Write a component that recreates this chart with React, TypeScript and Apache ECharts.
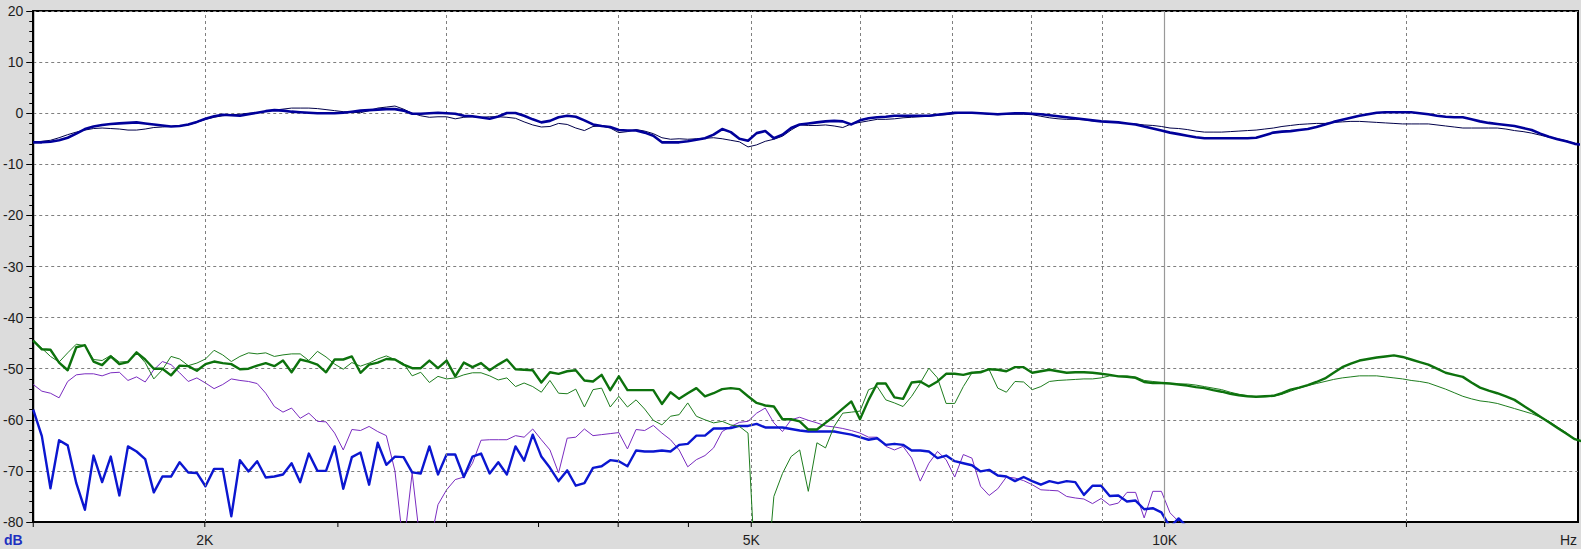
import React, { useEffect, useRef } from "react";
import * as echarts from "echarts";

// Measurement grid: 1/48 octave steps starting at 1.5 kHz (sample positions only)
const START_HZ = 1500;
const STEPS_PER_OCTAVE = 48;
const freqHz: number[] = Array.from({ length: 181 }, (_, i) => START_HZ * Math.pow(2, i / STEPS_PER_OCTAVE));

// Main response (thick navy), dB
const respThick = [
  -5.7, -5.7, -5.6, -5.3, -4.8, -4.0, -3.1, -2.6, -2.3, -2.1,
  -2.0, -1.9, -1.8, -2.0, -2.2, -2.4, -2.6, -2.5, -2.2, -1.7,
  -1.1, -0.6, -0.3, -0.4, -0.5, -0.2, 0.1, 0.4, 0.6, 0.5,
  0.3, 0.2, 0.1, 0.0, 0.0, 0.0, 0.1, 0.3, 0.5, 0.6,
  0.7, 0.8, 0.8, 0.5, -0.1, -0.1, 0.0, 0.1, 0.0, -0.1,
  -0.5, -0.6, -0.85, -1.1, -0.65, 0.05, 0.05, -0.5, -1.2, -1.8,
  -1.5, -0.8, -0.5, -0.7, -1.4, -2.2, -2.5, -2.7, -3.3, -3.4,
  -3.4, -3.8, -4.4, -5.7, -5.7, -5.7, -5.5, -5.2, -4.9, -4.2,
  -3.1, -3.7, -5.0, -5.4, -3.9, -3.5, -4.9, -4.2, -2.9, -2.2,
  -2.0, -1.8, -1.6, -1.5, -1.6, -2.2, -1.4, -1.0, -0.8, -0.7,
  -0.5, -0.5, -0.5, -0.5, -0.5, -0.3, -0.1, 0.1, 0.1, 0.1,
  0.0, -0.1, -0.2, -0.1, 0.0, 0.0, -0.1, -0.2, -0.4, -0.6,
  -0.8, -1.0, -1.2, -1.4, -1.6, -1.7, -1.8, -2.0, -2.2, -2.6,
  -3.0, -3.4, -3.8, -4.1, -4.4, -4.7, -4.9, -4.9, -4.9, -4.9,
  -4.9, -4.9, -4.8, -4.3, -3.8, -3.6, -3.5, -3.3, -3.1, -2.7,
  -2.2, -1.7, -1.3, -0.9, -0.5, -0.2, 0.1, 0.2, 0.2, 0.2,
  0.2, 0.0, -0.2, -0.5, -0.7, -0.8, -0.8, -1.2, -1.6, -1.9,
  -2.1, -2.3, -2.5, -2.9, -3.3, -4.0, -4.6, -5.1, -5.5, -6.0,
  -6.2,
];

// Second response (thin navy), dB
const respThin = [
  -5.7, -5.5, -5.3, -4.8, -4.2, -3.7, -3.3, -3.0, -2.9, -3.0,
  -3.1, -3.3, -3.3, -3.1, -2.8, -2.7, -2.6, -2.5, -2.3, -1.8,
  -1.2, -0.8, -0.5, -0.3, -0.2, 0.0, 0.1, 0.4, 0.6, 0.8,
  1.0, 1.0, 1.0, 0.9, 0.7, 0.5, 0.3, 0.2, 0.1, 0.5,
  1.0, 1.2, 1.4, 0.8, 0.0, -0.5, -0.8, -0.7, -0.7, -1.1,
  -0.8, -0.7, -0.8, -0.7, -0.7, -0.8, -1.0, -1.7, -2.3, -2.7,
  -2.6, -2.0, -2.2, -2.9, -3.4, -2.6, -2.5, -2.9, -3.8, -3.6,
  -3.2, -3.5, -4.0, -4.8, -5.1, -5.0, -5.1, -5.0, -4.9, -4.8,
  -5.0, -5.3, -5.6, -6.6, -6.2, -5.5, -5.1, -4.5, -3.3, -2.3,
  -2.4, -2.4, -2.3, -2.5, -2.8, -2.1, -1.8, -1.5, -1.2, -1.2,
  -1.1, -0.9, -0.8, -0.7, -0.6, -0.4, -0.3, -0.1, 0.0, 0.0,
  0.0, -0.2, -0.3, -0.2, -0.2, -0.2, -0.3, -0.6, -0.9, -1.1,
  -1.2, -1.2, -1.3, -1.5, -1.6, -1.7, -1.8, -2.0, -2.1, -2.3,
  -2.4, -2.6, -2.9, -3.0, -3.2, -3.5, -3.7, -3.7, -3.7, -3.6,
  -3.5, -3.4, -3.3, -3.1, -2.9, -2.6, -2.4, -2.2, -2.1, -2.0,
  -2.0, -1.8, -1.7, -1.6, -1.6, -1.7, -1.8, -1.9, -2.0, -2.1,
  -2.1, -2.1, -2.1, -2.3, -2.5, -2.7, -2.9, -2.9, -2.9, -2.9,
  -2.9, -3.1, -3.4, -3.6, -3.9, -4.3, -4.7, -5.0, -5.4, -5.9,
  -6.1,
];

// Green thick, dB
const greenThick = [
  -44.5, -46.2, -46.3, -48.8, -50.3, -45.8, -45.4, -48.6, -49.3, -47.6,
  -49.1, -48.7, -46.8, -48.2, -50.0, -50.0, -51.3, -49.4, -49.5, -50.4,
  -49.1, -48.6, -48.9, -49.1, -50.1, -50.0, -49.4, -48.9, -49.5, -48.4,
  -50.7, -48.2, -48.6, -49.2, -50.7, -48.2, -48.2, -47.6, -50.8, -49.2,
  -48.8, -48.1, -48.2, -49.2, -49.9, -49.9, -48.4, -49.9, -48.4, -51.5,
  -48.8, -49.7, -48.9, -50.3, -49.2, -48.2, -50.1, -50.2, -50.3, -52.7,
  -50.7, -51.0, -50.5, -50.3, -52.3, -52.5, -51.2, -54.2, -51.5, -54.2,
  -54.2, -54.2, -54.2, -56.9, -54.6, -55.9, -54.8, -53.8, -55.4, -54.8,
  -54.0, -53.8, -54.0, -55.4, -56.7, -57.2, -57.4, -59.9, -59.9, -60.3,
  -61.9, -61.9, -60.6, -59.3, -57.8, -56.4, -59.9, -56.1, -52.9, -52.9,
  -55.6, -55.9, -52.7, -52.5, -53.5, -52.5, -51.0, -51.0, -51.2, -50.8,
  -50.7, -50.1, -50.2, -50.5, -49.7, -49.7, -50.8, -50.5, -50.2, -50.5,
  -50.8, -50.7, -50.7, -50.8, -51.0, -51.2, -51.5, -51.6, -51.8, -52.6,
  -52.8, -52.8, -52.9, -53.1, -53.3, -53.6, -53.8, -54.2, -54.5, -54.9,
  -55.2, -55.4, -55.5, -55.4, -55.3, -54.8, -54.1, -53.7, -53.2, -52.6,
  -51.9, -50.8, -49.7, -49.0, -48.4, -48.1, -47.8, -47.6, -47.4, -47.7,
  -48.2, -48.7, -49.2, -50.0, -50.8, -51.2, -51.6, -52.7, -53.7, -54.3,
  -54.8, -55.4, -56.1, -57.2, -58.3, -59.4, -60.5, -61.6, -62.7, -63.8,
  -64.3,
];

// Green thin, dB
const greenThin = [
  -44.5, -46.0, -47.6, -48.7, -46.9, -45.2, -45.5, -48.2, -48.4, -47.4,
  -48.7, -48.6, -46.9, -48.8, -52.0, -50.2, -47.6, -48.1, -49.4, -48.9,
  -48.1, -46.4, -47.3, -48.6, -47.6, -46.9, -47.1, -46.9, -47.6, -47.3,
  -47.1, -47.1, -48.4, -46.6, -47.7, -49.1, -50.1, -48.8, -49.5, -48.9,
  -48.1, -47.5, -48.2, -49.0, -51.4, -50.7, -52.7, -51.5, -52.0, -51.8,
  -51.2, -50.8, -50.8, -51.4, -52.2, -51.8, -53.5, -52.8, -53.5, -54.6,
  -52.3, -54.8, -54.9, -54.0, -57.5, -54.1, -53.8, -57.5, -55.4, -57.5,
  -56.1, -57.9, -60.1, -61.0, -59.3, -59.0, -56.7, -59.3, -60.0, -60.6,
  -60.3, -61.0, -61.3, -62.6, -95.0, -95.0, -75.0, -70.5, -67.2, -65.9,
  -74.0, -64.5, -65.5, -61.3, -58.7, -58.5, -58.3, -54.1, -53.5, -56.1,
  -56.7, -57.4, -55.4, -52.8, -49.9, -51.8, -56.8, -56.8, -53.5, -50.8,
  -50.5, -50.2, -53.8, -54.6, -52.5, -52.6, -54.1, -53.5, -52.5, -52.3,
  -52.2, -52.1, -52.0, -52.0, -51.8, -51.4, -51.4, -51.4, -51.6, -52.3,
  -52.5, -52.7, -52.9, -53.0, -53.0, -53.2, -53.5, -53.8, -54.1, -54.6,
  -55.0, -55.3, -55.5, -55.5, -55.4, -55.0, -54.4, -53.8, -53.3, -52.9,
  -52.5, -52.1, -51.8, -51.6, -51.4, -51.4, -51.4, -51.6, -51.8, -52.0,
  -52.3, -52.5, -52.8, -53.4, -54.0, -54.7, -55.4, -55.9, -56.3, -56.5,
  -56.8, -57.3, -57.8, -58.3, -58.8, -59.5, -60.3, -61.4, -62.5, -63.8,
  -64.3,
];

// Blue thick (distortion), dB
const blueDist = [
  -58.0, -63.2, -73.4, -64.0, -65.0, -72.4, -77.6, -67.0, -72.2, -67.2,
  -74.8, -65.2, -66.2, -67.7, -74.2, -71.1, -71.1, -68.3, -70.3, -70.4,
  -73.0, -69.6, -69.6, -78.9, -67.9, -70.1, -68.1, -71.3, -71.1, -70.7,
  -68.5, -72.2, -66.6, -70.0, -70.0, -65.2, -73.5, -67.3, -66.4, -72.7,
  -64.5, -68.8, -67.2, -67.3, -70.3, -70.5, -65.2, -70.7, -66.8, -66.8,
  -71.2, -67.2, -66.6, -70.5, -68.3, -70.7, -65.2, -68.0, -62.9, -67.2,
  -69.4, -72.0, -69.9, -72.9, -72.4, -69.4, -69.1, -67.9, -68.1, -69.1,
  -66.0, -66.2, -66.2, -66.0, -66.2, -64.9, -64.7, -63.1, -63.1, -61.7,
  -61.7, -61.6, -61.2, -61.2, -60.8, -61.5, -61.5, -61.5, -61.8, -62.1,
  -62.3, -62.3, -62.3, -62.3, -62.6, -62.9, -63.4, -63.9, -63.6, -64.9,
  -64.7, -64.9, -66.0, -66.0, -66.2, -67.5, -67.0, -68.1, -68.5, -68.9,
  -70.1, -69.8, -70.9, -71.1, -72.0, -71.2, -72.0, -72.7, -72.0, -72.4,
  -72.0, -72.2, -74.7, -72.9, -72.9, -74.9, -74.8, -76.0, -75.8, -77.5,
  -77.3, -78.1, -81.0, -79.3, -81.0,
];

// Purple thin, dB
const purpleDist = [
  -53.1, -54.4, -54.8, -55.7, -52.5, -51.2, -51.0, -51.0, -51.4, -50.8,
  -50.7, -52.3, -51.6, -52.6, -50.2, -48.6, -49.2, -50.8, -52.5, -51.8,
  -52.8, -53.9, -53.1, -52.0, -52.3, -52.5, -52.9, -54.8, -57.4, -58.5,
  -57.7, -59.7, -58.7, -60.3, -60.4, -62.6, -65.9, -61.9, -62.1, -61.3,
  -62.3, -63.1, -70.0, -85.0, -70.4, -85.0, -85.0, -76.6, -73.7, -71.7,
  -71.2, -68.5, -64.0, -63.9, -63.9, -63.9, -63.1, -63.4, -61.8, -63.9,
  -65.9, -70.4, -63.6, -63.4, -61.8, -63.1, -62.9, -62.7, -62.5, -65.7,
  -61.9, -62.1, -61.1, -62.6, -63.9, -65.9, -69.2, -67.8, -67.0, -65.5,
  -62.3, -61.3, -60.5, -60.3, -58.7, -57.7, -60.6, -62.3, -60.0, -59.5,
  -60.1, -60.6, -61.2, -61.4, -61.7, -62.1, -62.6, -63.4, -63.4, -65.2,
  -65.9, -65.2, -67.5, -72.0, -68.5, -66.2, -67.8, -71.2, -66.8, -67.5,
  -73.0, -74.8, -73.5, -71.2, -71.4, -71.9, -72.7, -73.7, -73.8, -73.9,
  -75.0, -75.3, -75.5, -76.4, -75.4, -76.7, -76.3, -74.2, -74.2, -79.2,
  -74.0, -74.0, -78.2, -79.9,
];

const yMin = -80;
const yMax = 20;
const yStep = 10;
const xMin = 1500;
const xMax = 20000;
const xTickHz = [1500, 2000, 2500, 3000, 3500, 4000, 4500, 5000, 10000, 15000];
const xLabelHz = [2000, 5000, 10000];
const xLabelText = ["2K", "5K", "10K"];
const xGridDashedHz = [2000, 3000, 4000, 5000, 6000, 7000, 8000, 9000, 15000];
const xGridSolidHz = [10000];

const FONT = "Arial, 'Liberation Sans', sans-serif";

function pairs(values: number[]) {
  return values.map((v, i) => [freqHz[i], v]);
}

function lineSeries(name: string, values: number[], color: string, width: number, z: number) {
  return {
    name,
    type: "line",
    data: pairs(values),
    showSymbol: false,
    symbol: "none",
    clip: true,
    z,
    lineStyle: { color, width, join: "round" },
    emphasis: { disabled: true },
  };
}

export default function App() {
  const ref = useRef<HTMLDivElement>(null);
  useEffect(() => {
    document.body.style.margin = "0";
    if (!ref.current) return;
    const chart = echarts.init(ref.current, undefined, { renderer: "svg" });
    const gridLines = [
      ...xGridDashedHz.map((f) => ({ xAxis: f, lineStyle: { color: "#7f7f7f", type: [3, 3], width: 1 } })),
      ...xGridSolidHz.map((f) => ({ xAxis: f, lineStyle: { color: "#999999", type: "solid", width: 1.2 } })),
    ];
    chart.setOption({
      animation: false,
      backgroundColor: "#dcdcdc",
      grid: {
        left: 33,
        top: 11,
        right: 3,
        bottom: 27,
        show: true,
        backgroundColor: "#ffffff",
        borderColor: "#000000",
        borderWidth: 2,
      },
      xAxis: {
        type: "log",
        logBase: 10,
        min: xMin,
        max: xMax,
        axisLine: { show: true, onZero: false, lineStyle: { color: "#000", width: 2 } },
        axisTick: { show: false },
        axisLabel: { show: false },
        splitLine: { show: false },
        minorSplitLine: { show: false },
      },
      yAxis: {
        type: "value",
        min: yMin,
        max: yMax,
        interval: yStep,
        axisLine: { show: true, lineStyle: { color: "#000", width: 2 } },
        axisTick: { show: true, length: 7, lineStyle: { color: "#000", width: 1 } },
        minorTick: { show: true, splitNumber: 5, length: 4, lineStyle: { color: "#000", width: 1 } },
        axisLabel: { fontSize: 14, color: "#1e1e1e", fontFamily: FONT, margin: 10 },
        splitLine: { show: true, lineStyle: { color: "#7f7f7f", type: [3, 3], width: 1 } },
      },
      series: [
        {
          type: "line",
          data: [],
          z: 1,
          markLine: { silent: true, symbol: "none", label: { show: false }, animation: false, data: gridLines },
        },
        lineSeries("Distortion 3", purpleDist, "#7a2cc0", 1, 3),
        lineSeries("Distortion 2", blueDist, "#0b16d0", 2.4, 4),
        lineSeries("Off-axis green", greenThin, "#1e7d1e", 1, 5),
        lineSeries("Green", greenThick, "#0d720d", 2.4, 6),
        lineSeries("Response 2", respThin, "#00004a", 1, 7),
        lineSeries("Response", respThick, "#00009a", 2.6, 8),
      ],
    });

    const yBottom = chart.convertToPixel({ yAxisIndex: 0 }, yMin) as number;
    const graphics: any[] = [];
    xTickHz.forEach((f) => {
      const x = chart.convertToPixel({ xAxisIndex: 0 }, f) as number;
      graphics.push({
        type: "line",
        shape: { x1: x, y1: yBottom, x2: x, y2: yBottom + 5 },
        style: { stroke: "#000", lineWidth: 1 },
      });
    });
    xLabelHz.forEach((f, k) => {
      const x = chart.convertToPixel({ xAxisIndex: 0 }, f) as number;
      graphics.push({
        type: "text",
        x,
        y: 540,
        style: { text: xLabelText[k], fill: "#1e1e1e", font: `14px ${FONT}`, textAlign: "center", textVerticalAlign: "middle" },
      });
    });
    graphics.push({
      type: "text",
      x: 4,
      y: 540,
      style: { text: "dB", fill: "#2030c0", font: `bold 14px ${FONT}`, textAlign: "left", textVerticalAlign: "middle" },
    });
    graphics.push({
      type: "text",
      x: 1577,
      y: 540,
      style: { text: "Hz", fill: "#1e1e1e", font: `14px ${FONT}`, textAlign: "right", textVerticalAlign: "middle" },
    });
    chart.setOption({ graphic: graphics });

    return () => chart.dispose();
  }, []);
  return <div ref={ref} style={{ width: 1581, height: 549 }} />;
}
